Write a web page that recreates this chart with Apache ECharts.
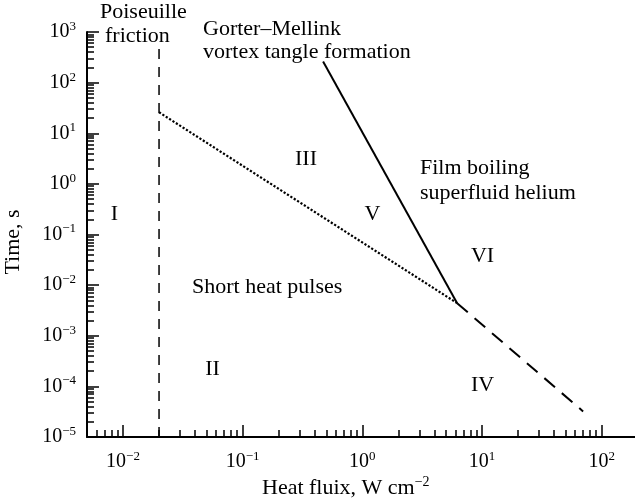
<!DOCTYPE html>
<html>
<head>
<meta charset="utf-8">
<script src="https://cdn.jsdelivr.net/npm/echarts@6/dist/echarts.min.js"></script>
<style>
  html, body { margin: 0; padding: 0; background: #fff; }
  #chart { width: 635px; height: 501px; }
</style>
</head>
<body>
<div id="chart"></div>
<script>
// Heat flux (W cm^-2) vs. time (s) regimes in superfluid helium
const xMajorTicks = [0.01, 0.1, 1, 10, 100];
const yMajorTicks = [1e-5, 1e-4, 1e-3, 1e-2, 1e-1, 1, 10, 100, 1000];
const minorSteps = [2, 3, 4, 5, 6, 7, 8, 9];

// boundary lines: [heat flux, time]
const poiseuilleLine = [[0.02, 1e-5], [0.02, 540]];
const shortPulseLine = [[0.02, 26], [6.2, 0.0044]];
const gorterMellinkLine = [[0.47, 262], [6.2, 0.0044]];
const filmBoilingLine = [[6.2, 0.0044], [70, 3.2e-5]];

function minorTicksFor(decades) {
  const out = [];
  decades.forEach(d => minorSteps.forEach(m => out.push(+(d * m).toPrecision(3))));
  return out;
}
const xMinorTicks = minorTicksFor([0.001, 0.01, 0.1, 1, 10, 100]);
const yMinorTicks = minorTicksFor([1e-5, 1e-4, 1e-3, 1e-2, 1e-1, 1, 10, 100]);

const FONT = 'Liberation Serif';
const INK = '#000';

const powRich = {
  b: { fontFamily: FONT, fontSize: 20, color: INK, lineHeight: 24 },
  s: { fontFamily: FONT, fontSize: 13, color: INK, verticalAlign: 'top', lineHeight: 14 }
};
function powLabel(v) {
  const e = Math.round(Math.log10(v));
  return '{b|10}{s|' + (e < 0 ? '\u2212' + (-e) : String(e)) + '}';
}

const xMin = 0.005, xMax = 190, yMin = 1e-5, yMax = 1e3;

function logAxis(min, max, major, opts) {
  return Object.assign({
    type: 'log',
    logBase: 10,
    min: min,
    max: max,
    splitLine: { show: false },
    axisLine: { show: true, onZero: false, lineStyle: { color: INK, width: 2 } },
    axisTick: { show: true, inside: true, length: 12, customValues: major,
      lineStyle: { color: INK, width: 1.5 } },
    axisLabel: { show: true, customValues: major, formatter: powLabel, rich: powRich }
  }, opts);
}
function minorAxis(min, max, minor, opts) {
  return Object.assign({
    type: 'log',
    logBase: 10,
    min: min,
    max: max,
    splitLine: { show: false },
    axisLine: { show: false, onZero: false },
    axisTick: { show: true, inside: true, length: 7, customValues: minor,
      lineStyle: { color: INK, width: 1.5 } },
    axisLabel: { show: false }
  }, opts);
}

function line(data, type, width) {
  return {
    type: 'line',
    data: data,
    xAxisIndex: 0,
    yAxisIndex: 0,
    symbol: 'none',
    silent: true,
    animation: false,
    lineStyle: { color: INK, width: width, type: type, cap: 'butt' }
  };
}

function txt(text, x, y, align) {
  return {
    type: 'text', x: x, y: y, silent: true,
    style: { text: text, fontFamily: FONT, fontSize: 22, fill: INK,
      align: align || 'center', verticalAlign: 'middle' }
  };
}

const chart = echarts.init(document.getElementById('chart'), null, { renderer: 'canvas' });
chart.setOption({
  animation: false,
  backgroundColor: '#fff',
  grid: { left: 87, top: 32, width: 548, height: 405, outerBoundsMode: 'none' },
  xAxis: [
    logAxis(xMin, xMax, xMajorTicks, { position: 'bottom',
      axisLabel: { show: true, customValues: xMajorTicks, formatter: powLabel, rich: powRich, margin: 13 } }),
    minorAxis(xMin, xMax, xMinorTicks, { position: 'bottom' })
  ],
  yAxis: [
    logAxis(yMin, yMax, yMajorTicks, { position: 'left',
      axisLabel: { show: true, customValues: yMajorTicks, formatter: powLabel, rich: powRich, margin: 11 } }),
    minorAxis(yMin, yMax, yMinorTicks, { position: 'left' })
  ],
  series: [
    line(poiseuilleLine, [10, 8], 1.5),
    line(shortPulseLine, [2.2, 1.8], 2.2),
    line(gorterMellinkLine, 'solid', 2),
    line(filmBoilingLine, [14, 9], 2)
  ],
  graphic: [
    txt('Poiseuille', 100, 12, 'left'),
    txt('friction', 105, 36, 'left'),
    txt('Gorter\u2013Mellink', 203, 29, 'left'),
    txt('vortex tangle formation', 203, 52, 'left'),
    txt('Film boiling', 420, 168, 'left'),
    txt('superfluid helium', 420, 193, 'left'),
    txt('Short heat pulses', 192, 287, 'left'),
    txt('I', 114.5, 214),
    txt('II', 212.5, 369),
    txt('III', 306, 159),
    txt('IV', 482.5, 385),
    txt('V', 372.5, 214),
    txt('VI', 482.5, 256),
    {
      type: 'text', x: 262, y: 488, silent: true,
      style: { text: '{b|Heat fluix, W cm}{s|\u22122}', align: 'left', verticalAlign: 'middle',
        rich: {
          b: { fontFamily: FONT, fontSize: 22, fill: INK, color: INK, lineHeight: 26 },
          s: { fontFamily: FONT, fontSize: 14, fill: INK, color: INK, verticalAlign: 'top', lineHeight: 14 }
        } }
    },
    {
      type: 'text', x: 13, y: 242, rotation: Math.PI / 2, silent: true,
      style: { text: 'Time, s', fontFamily: FONT, fontSize: 22, fill: INK,
        align: 'center', verticalAlign: 'middle' }
    }
  ]
});
</script>
</body>
</html>
